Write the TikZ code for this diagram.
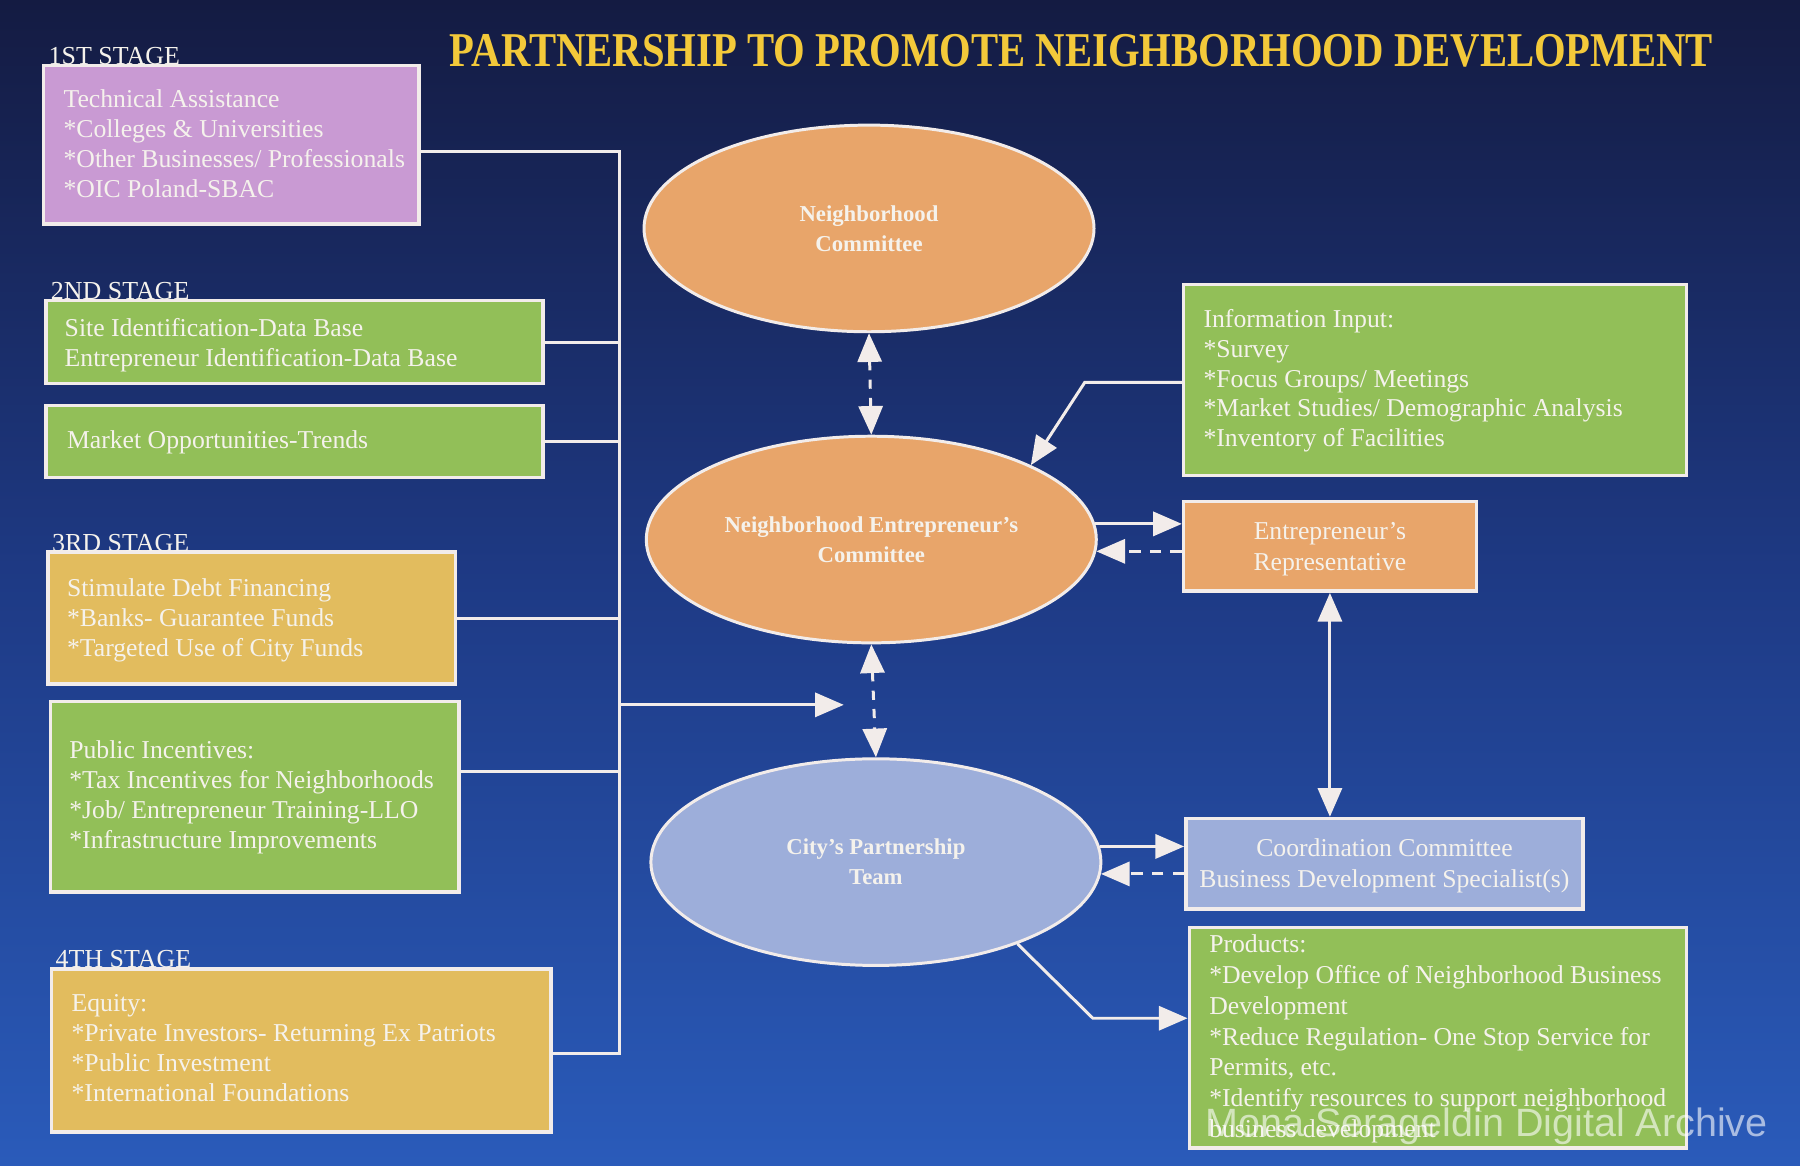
\documentclass[tikz,border=0pt]{standalone}
\usepackage{fontspec}
\setmainfont{Liberation Serif}
\newfontfamily\wmfont{Liberation Sans}
\usetikzlibrary{arrows.meta,shapes.geometric,fit,calc}
\definecolor{bgtop}{HTML}{141B42}
\definecolor{bgmid}{HTML}{1E3A85}
\definecolor{bgbot}{HTML}{2A5BBA}
\definecolor{pinkfill}{HTML}{C99AD3}
\definecolor{greenfill}{HTML}{92BF58}
\definecolor{yellowfill}{HTML}{E2BC5E}
\definecolor{orangefill}{HTML}{E8A56A}
\definecolor{bluefill}{HTML}{9DAEDA}
\definecolor{edgecol}{HTML}{F2ECEA}
\definecolor{txtcol}{HTML}{F5F2EC}
\definecolor{titlecol}{HTML}{F3C93A}
\begin{document}
\begin{tikzpicture}[x=0.5pt,y=-0.5pt,
  tip/.tip={Triangle[length=12.5pt,width=10.5pt]},
  conn/.style={draw=edgecol, line width=1.3pt},
  arr/.style={conn, -tip},
  darr/.style={conn, dash pattern=on 5pt off 4pt, -tip},
  biarr/.style={conn, tip-tip},
  dbiarr/.style={conn, dash pattern=on 4pt off 4pt, tip-tip},
  boxbase/.style={draw=edgecol, line width=1.5pt, inner sep=0pt, rectangle},
  pinkbox/.style={boxbase, fill=pinkfill},
  greenbox/.style={boxbase, fill=greenfill},
  yellowbox/.style={boxbase, fill=yellowfill},
  orangebox/.style={boxbase, fill=orangefill},
  bluebox/.style={boxbase, fill=bluefill},
  centertext/.style={text=txtcol, align=center, inner sep=0pt, font=\fontsize{11.2}{13.5}\selectfont},
  boxtext/.style={text=txtcol, font=\fontsize{11.2}{13}\selectfont, align=left, anchor=north west, inner sep=0pt},
  stagelab/.style={text=txtcol, font=\fontsize{11.3}{13}\selectfont, anchor=base west, inner sep=0pt},
  ell/.style={ellipse, draw=edgecol, line width=1.3pt, minimum width=196pt, minimum height=90pt, inner sep=0pt, text=txtcol, font=\bfseries\fontsize{9.9}{13}\selectfont, align=center}
]
\shade[top color=bgtop, bottom color=bgbot, middle color=bgmid] (0,0) rectangle (1568,1015);
\useasboundingbox (0,0) rectangle (1568,1015);

% title
\node[anchor=base, inner sep=0pt, text=titlecol] (title) at (942,58)
  {\resizebox{550pt}{14pt}{\bfseries PARTNERSHIP TO PROMOTE NEIGHBORHOOD DEVELOPMENT}};

% left boxes
\node[pinkbox, fit={(38,57) (365,195)}] (tech) {};
\node[stagelab] (s1) at (42,56) {1ST STAGE};
\node[boxtext] (techtxt) at (55,78) {Technical Assistance\\*Colleges \& Universities\\*Other Businesses/ Professionals\\*OIC Poland-SBAC};

\node[greenbox, fit={(40,262) (473,334)}] (site) {};
\node[stagelab] (s2) at (44,261) {2ND STAGE};
\node[boxtext] (sitetxt) at (56,277) {Site Identification-Data Base\\Entrepreneur Identification-Data Base};

\node[greenbox, fit={(40,353) (473,416)}] (market) {};
\node[boxtext] (markettxt) at (58,375) {Market Opportunities-Trends};

\node[yellowbox, fit={(42,481) (397,596)}] (debt) {};
\node[stagelab] (s3) at (45,480) {3RD STAGE};
\node[boxtext] (debttxt) at (58,504) {Stimulate Debt Financing\\*Banks- Guarantee Funds\\*Targeted Use of City Funds};

\node[greenbox, fit={(44,611) (400,777)}] (pub) {};
\node[boxtext] (pubtxt) at (60,645) {Public Incentives:\\*Tax Incentives for Neighborhoods\\*Job/ Entrepreneur Training-LLO\\*Infrastructure Improvements};

\node[yellowbox, fit={(45,844) (480,986)}] (equity) {};
\node[stagelab] (s4) at (48,843) {4TH STAGE};
\node[boxtext] (equitytxt) at (62,866) {Equity:\\*Private Investors- Returning Ex Patriots\\*Public Investment\\*International Foundations};

% bus
\coordinate (busT) at (540,132);
\coordinate (busB) at (540,918);
\coordinate (techc) at (0,132);
\coordinate (pubc) at (0,672);
\coordinate (busA) at (540,614);
\coordinate (busEnd) at (735,614);
\draw[conn, line cap=rect] (tech.east |- techc) -- (busT) -- (busB) -- (busB -| equity.east);
\draw[conn] (site.east) -- (site.east -| busT);
\draw[conn] (market.east) -- (market.east -| busT);
\draw[conn] (debt.east) -- (debt.east -| busT);
\draw[conn] (pub.east |- pubc) -- (busT |- pubc);
\draw[arr] (busA) -- (busEnd);

% ellipses
\node[ell, fill=orangefill] (nc) at (757,199) {Neighborhood\\Committee};
\node[ell, fill=orangefill] (nec) at (759,470) {Neighborhood Entrepreneur's\\Committee};
\node[ell, fill=bluefill] (cpt) at (763,751) {City's Partnership\\Team};

\draw[dbiarr] (nc.south) -- (nec.north);
\draw[dbiarr] (nec.south) -- (cpt.north);

% right boxes
\node[greenbox, fit={(1031,248) (1469,414)}] (info) {};
\node[boxtext] (infotxt) at (1048,269) {Information Input:\\*Survey\\*Focus Groups/ Meetings\\*Market Studies/ Demographic Analysis\\*Inventory of Facilities};

\node[orangebox, fit={(1031,437) (1286,515)}] (rep) {};
\node[centertext] (reptxt) at ($(rep.center)+(0,2)$) {Entrepreneur's\\Representative};
\node[bluebox, fit={(1033,713) (1379,792)}] (coord) {};
\node[centertext] (coordtxt) at ($(coord.center)+(0,2)$) {Coordination Committee\\Business Development Specialist(s)};

\node[greenbox, fit={(1036,808) (1469,1000)}] (prod) {};
\node[boxtext, font=\fontsize{11.2}{13.4}\selectfont] (prodtxt) at (1053,814) {Products:\\*Develop Office of Neighborhood Business\\Development\\*Reduce Regulation- One Stop Service for\\Permits, etc.\\*Identify resources to support neighborhood\\business development};

% right connectors
\coordinate (ibend) at (945,333);
\draw[arr] (info.west |- ibend) -- (ibend) -- (nec.25);
\draw[arr] (nec.4) -- (nec.4 -| rep.west);
\draw[darr] (nec.-3 -| rep.west) -- (nec.-3);
\draw[biarr] (rep.south) -- (rep.south |- coord.north);
\draw[arr] (cpt.4) -- (cpt.4 -| coord.west);
\draw[darr] (cpt.-3 -| coord.west) -- (cpt.-3);
\coordinate (pbend) at (952,887);
\draw[arr] (cpt.-30) -- (pbend) -- (pbend -| prod.west);

% watermark
\node[anchor=base west, inner sep=0pt, text=white, opacity=0.6, font=\wmfont\fontsize{17.2}{20}\selectfont] (wm) at (1050,990) {Mona Serageldin Digital Archive};
\end{tikzpicture}
\end{document}
